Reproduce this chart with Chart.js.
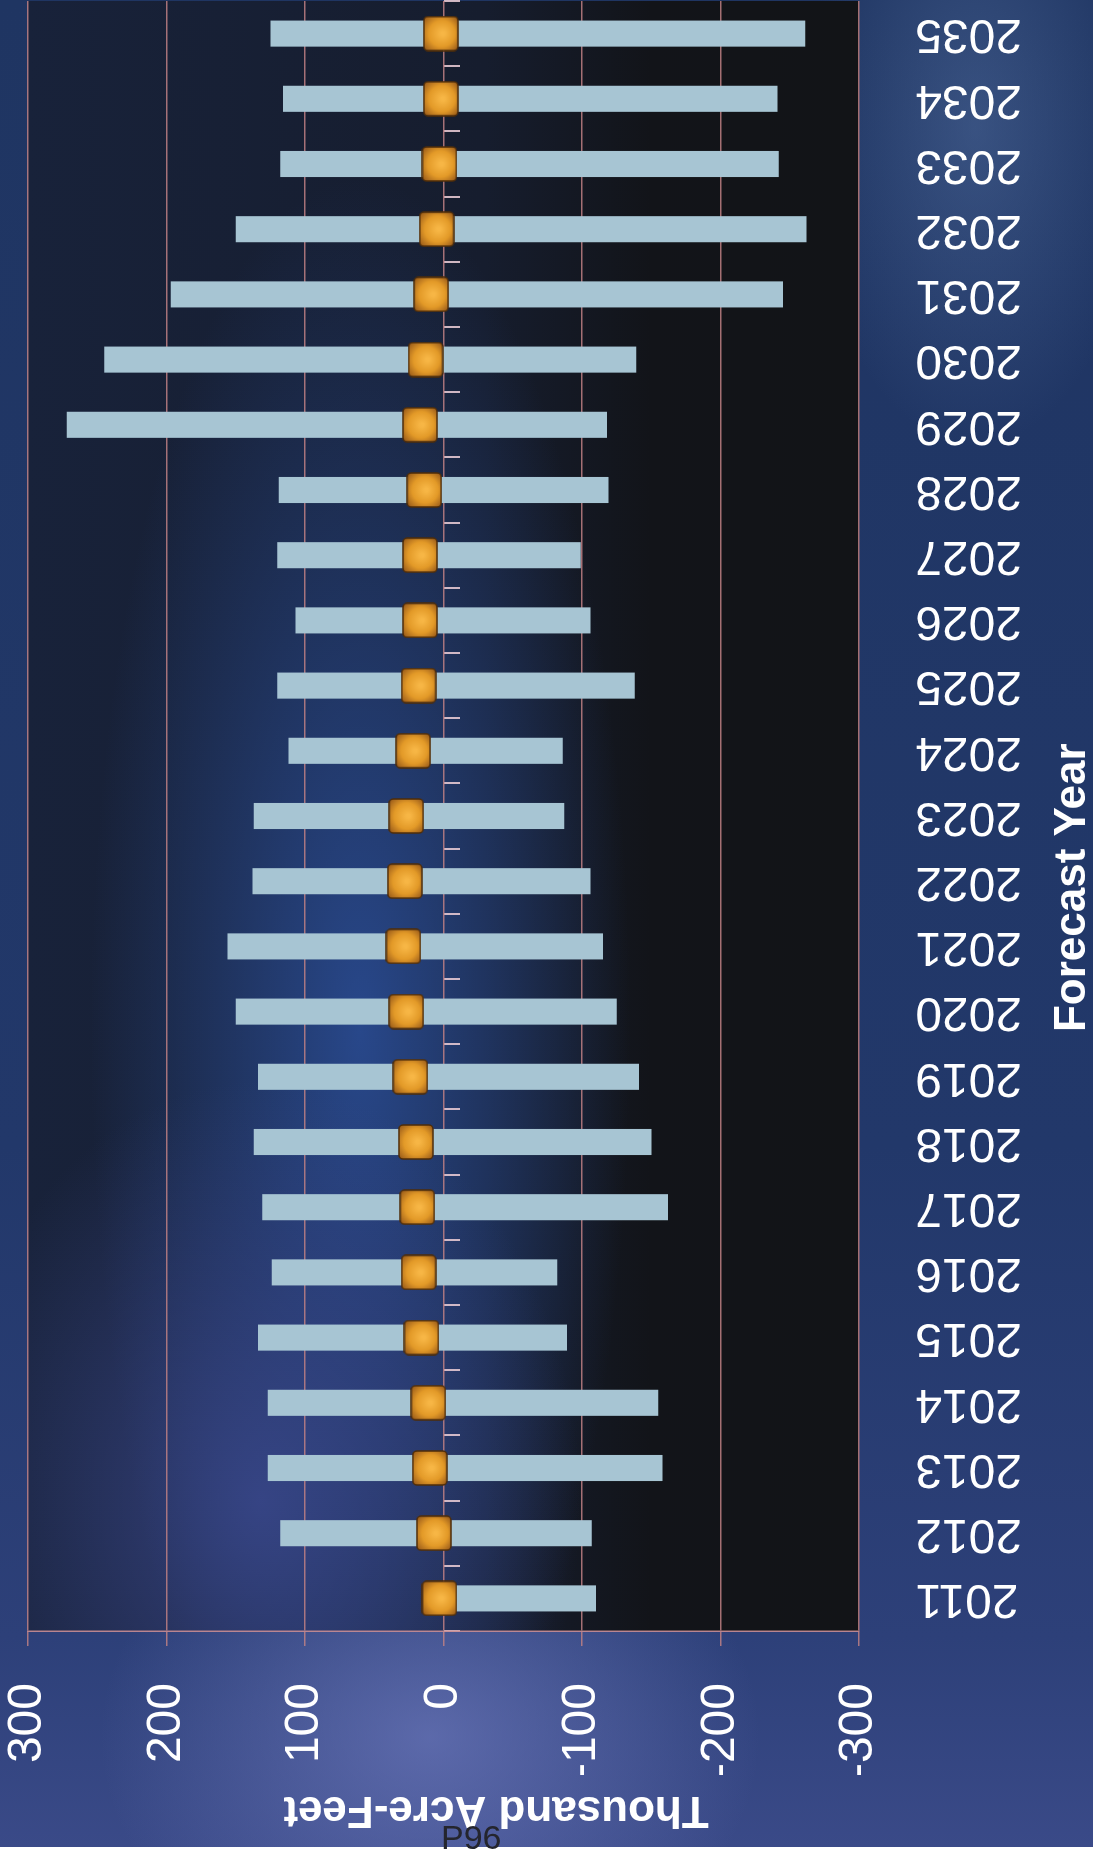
<!DOCTYPE html>
<html>
<head>
<meta charset="utf-8">
<script src="https://cdn.jsdelivr.net/npm/chart.js@4.4.1/dist/chart.umd.min.js"></script>
<style>
  html, body { margin: 0; padding: 0; background: #ffffff; }
  body { width: 1098px; height: 1855px; position: relative; overflow: hidden; }
  #wrap {
    position: absolute; left: 0; top: 0;
    width: 1847px; height: 1093px; overflow: hidden;
    transform-origin: 0 0;
    transform: translate(0, 1847px) rotate(-90deg);
    background:
      radial-gradient(260px 330px at 110px 430px, rgba(125,135,205,0.55), rgba(125,135,205,0)),
      radial-gradient(320px 170px at 1720px 975px, rgba(95,125,175,0.4), rgba(95,125,175,0)),
      linear-gradient(90deg, #3a4a88 0px, #2d4079 210px, #22386a 700px, #1f3562 1847px);
  }
  #wrap canvas { position: absolute; left: 0; top: 0; }
  #page {
    position: absolute; left: 441px; top: 1820px;
    font: 34px/34px "Liberation Sans", Arial, sans-serif;
    color: #24252d;
  }
</style>
</head>
<body>
<div id="wrap"><canvas id="chart1" width="1847" height="1093"></canvas></div>
<div id="page">P96</div>
<script>
const years = ['2011','2012','2013','2014','2015','2016','2017','2018','2019','2020','2021','2022','2023',
               '2024','2025','2026','2027','2028','2029','2030','2031','2032','2033','2034','2035'];
const highs = [0, 118, 127, 127, 134, 124, 131, 137, 134, 150, 156, 138, 137,
               112, 120, 107, 120, 119, 272, 245, 197, 150, 118, 116, 125];
const lows = [-110, -107, -158, -155, -89, -82, -162, -150, -141, -125, -115, -106, -87,
              -86, -138, -106, -99, -119, -118, -139, -245, -262, -242, -241, -261];
const expected = [3, 7, 10, 11, 16, 18, 19, 20, 24, 27, 29, 28, 27,
                  22, 18, 17, 17, 14, 17, 13, 9, 5, 3, 2, 2];
const valueTicks = [-300, -200, -100, 0, 100, 200, 300];
const yTitle = 'Thousand Acre-Feet';
const xTitle = 'Forecast Year';

// orange marker drawn once, used as point style
const marker = document.createElement('canvas');
marker.width = 36; marker.height = 36;
const m = marker.getContext('2d');
const mg = m.createRadialGradient(18, 20, 2, 18, 18, 24);
mg.addColorStop(0, '#f7b645');
mg.addColorStop(0.5, '#e39a28');
mg.addColorStop(1, '#8f5218');
m.fillStyle = mg;
m.beginPath(); m.roundRect(1, 1, 34, 34, 4); m.fill();
m.strokeStyle = '#4e2d0a'; m.lineWidth = 1.5; m.stroke();

function glow(ctx, cx, cy, rx, ry, rgb, a) {
  ctx.save();
  ctx.translate(cx, cy);
  ctx.scale(rx / ry, 1);
  const g = ctx.createRadialGradient(0, 0, 0, 0, 0, ry);
  g.addColorStop(0, 'rgba(' + rgb + ',' + a + ')');
  g.addColorStop(1, 'rgba(' + rgb + ',0)');
  ctx.fillStyle = g;
  ctx.fillRect(-ry, -ry, 2 * ry, 2 * ry);
  ctx.restore();
}

const plotBackground = {
  id: 'plotBackground',
  beforeDraw(chart) {
    const {ctx, chartArea: a} = chart;
    ctx.save();
    ctx.beginPath();
    ctx.rect(a.left, a.top, a.width, a.height);
    ctx.clip();
    const base = ctx.createLinearGradient(0, a.top, 0, a.bottom);
    base.addColorStop(0, '#18223a');
    base.addColorStop(0.55, '#161d2e');
    base.addColorStop(0.75, '#121419');
    base.addColorStop(1, '#121417');
    ctx.fillStyle = base;
    ctx.fillRect(a.left, a.top, a.width, a.height);
    glow(ctx, a.left + a.width * 0.37, a.top + a.height * 0.4, 850, 270, '42,76,148', 0.9);
    glow(ctx, a.left + a.width * 0.08, a.top + a.height * 0.28, 420, 320, '60,74,145', 0.8);
    ctx.restore();
  }
};

const axisTitles = {
  id: 'axisTitles',
  afterDraw(chart) {
    const {ctx, chartArea: a} = chart;
    ctx.save();
    ctx.fillStyle = '#ffffff';
    ctx.font = 'bold 44px "Liberation Sans"';
    ctx.textAlign = 'center';
    ctx.textBaseline = 'middle';
    ctx.translate(38, a.top + a.height * 0.563);
    ctx.rotate(-Math.PI / 2);
    ctx.fillText(yTitle, 0, 0);
    ctx.restore();
    ctx.save();
    ctx.fillStyle = '#ffffff';
    ctx.font = 'bold 44px "Liberation Sans"';
    ctx.textAlign = 'center';
    ctx.textBaseline = 'middle';
    ctx.fillText(xTitle, a.left + a.width * 0.456, 1073);
    ctx.restore();
  }
};

new Chart(document.getElementById('chart1'), {
  type: 'bar',
  data: {
    labels: years,
    datasets: [{
        type: 'line',
        label: 'Expected',
        data: expected,
        showLine: false,
        pointStyle: marker,
        pointRadius: 18,
        order: 0
      }, {
        type: 'bar',
        label: 'Range',
        data: lows.map((v, i) => [v, highs[i]]),
        backgroundColor: '#a7c5d3',
        borderWidth: 0,
        barPercentage: 0.4,
        categoryPercentage: 1.0,
        order: 1
      }
    ]
  },
  options: {
    responsive: false,
    animation: false,
    layout: { autoPadding: false, padding: { left: 72, right: 1, top: 28, bottom: 71 } },
    plugins: { legend: { display: false }, tooltip: { enabled: false } },
    scales: {
      x: {
        position: 'bottom',
        grid: { display: false, drawTicks: true, tickLength: 56 },
        border: { display: false },
        ticks: {
          color: '#ffffff',
          font: { family: '"Liberation Sans"', size: 48, lineHeight: 1 },
          minRotation: 90, maxRotation: 90,
          autoSkip: false,
          padding: 0
        },
        afterFit: s => { s.paddingLeft = 0; s.paddingRight = 0; }
      },
      x2: {
        type: 'category',
        axis: 'x',
        position: { y: 0 },
        offset: true,
        grid: { offset: true, drawOnChartArea: false, drawTicks: true, tickLength: 16,
                color: 'rgba(228,200,210,0.9)', lineWidth: 2 },
        border: { display: false },
        ticks: { display: false }
      },
      y: {
        min: valueTicks[0],
        max: valueTicks[valueTicks.length - 1],
        grid: { color: 'rgba(190,128,132,0.85)', lineWidth: 1.5, tickLength: 15 },
        border: { display: true, color: 'rgba(200,140,145,0.9)', width: 1.5 },
        ticks: {
          stepSize: 100,
          color: '#ffffff',
          font: { family: '"Liberation Sans"', size: 48 },
          padding: 37
        },
        afterFit: s => { s.width = 144; s.paddingTop = 0; s.paddingBottom = 0; }
      }
    }
  },
  plugins: [plotBackground, axisTitles]
});
</script>
</body>
</html>
